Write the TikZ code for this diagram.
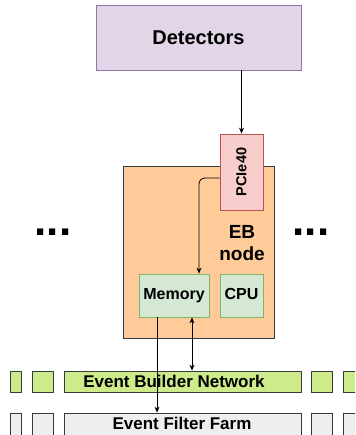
\documentclass[tikz,border=0pt]{standalone}
\usepackage{fontspec}
\setmainfont{Liberation Sans}
\usetikzlibrary{arrows.meta, calc, positioning}
\definecolor{detfill}{HTML}{E1D5E7}
\definecolor{detline}{HTML}{9673A6}
\definecolor{pcifill}{HTML}{F8CECC}
\definecolor{pciline}{HTML}{B85450}
\definecolor{ebfill}{HTML}{FFCC99}
\definecolor{darkline}{HTML}{36393D}
\definecolor{memfill}{HTML}{D5E8D4}
\definecolor{memline}{HTML}{82B366}
\definecolor{netfill}{HTML}{CDEB8B}
\definecolor{farmfill}{HTML}{EEEEEE}

\begin{document}
\begin{tikzpicture}
      [x=1pt,y=-1pt,
       every node/.style={draw,line width=0.8pt,inner sep=0pt,align=center},
       netbox/.style={fill=netfill,draw=darkline,minimum height=21pt},
       farmbox/.style={fill=farmfill,draw=darkline,minimum height=24pt},
       part/.style={fill=memfill,draw=memline,minimum height=43pt,text height=11.5pt,text depth=3.5pt,
                    font=\fontsize{16}{19}\bfseries},
       arr/.style={line width=0.8pt,-{Stealth[length=6pt,width=5pt]}},
       biarr/.style={line width=0.8pt,{Stealth[length=6pt,width=5pt]}-{Stealth[length=6pt,width=5pt]}}]
      \useasboundingbox (0,0) rectangle (355,435);
      \clip (0,0) rectangle (355,435);

      \node[fill=detfill,draw=detline,minimum width=205pt,minimum height=65pt,
            font=\fontsize{20}{24}\bfseries] (det) at (198.5,37.5) {Detectors};
      \node[fill=ebfill,draw=darkline,minimum width=151pt,minimum height=172pt] (eb) at (198.5,252) {};
      \node[fill=pcifill,draw=pciline,minimum width=43pt,minimum height=76pt,
            font=\fontsize{14.5}{17}\bfseries] (pcie) at (241.5,172) {\rotatebox{90}{PCIe40}};
      \node[draw=none,font=\fontsize{19}{22}\bfseries] (ebtext) at (242,243) {EB\\node};
      \node[part,minimum width=70pt] (mem) at (174,295.5) {Memory};
      \node[part,minimum width=43pt] (cpu) at (241.5,295.5) {CPU};

      \node[draw=none,font=\fontsize{44}{44}\bfseries] (ldots) at (53,232) {...};
      \node[draw=none,font=\fontsize{44}{44}\bfseries] (rdots) at (311,232) {...};

      \node[netbox,minimum width=237pt,
            label={[xshift=-8.5pt,draw=none,font=\fontsize{17}{20}\bfseries]center:Event Builder Network}]
            (ebn) at (182.5,381.5) {};
      \node[farmbox,minimum width=237pt] (eff) at (182.5,425) {};
      \node[draw=none,font=\fontsize{17}{20}\bfseries] (efftext) at (182,423.5) {Event Filter Farm};
      \foreach \cx/\w [count=\i] in {15.5/11, 42.5/21, 321.5/21, 353.5/21} {
        \node[netbox,minimum width=\w pt] (ebn\i) at (\cx,381.5) {};
        \node[farmbox,minimum width=\w pt] (eff\i) at (\cx,425) {};
      }

      \draw[arr] (det.south -| pcie.north) -- (pcie.north);
      \draw[arr,rounded corners=6pt] ([yshift=-6pt]pcie.west) -| ([xshift=25pt]mem.north);
      \draw[biarr] ([xshift=18pt]mem.south) -- ([xshift=18pt]mem.south |- ebn.north);
      \draw[arr] ([xshift=-17pt]mem.south) -- ([xshift=-17pt]mem.south |- eff.north);

    \end{tikzpicture}
\end{document}
